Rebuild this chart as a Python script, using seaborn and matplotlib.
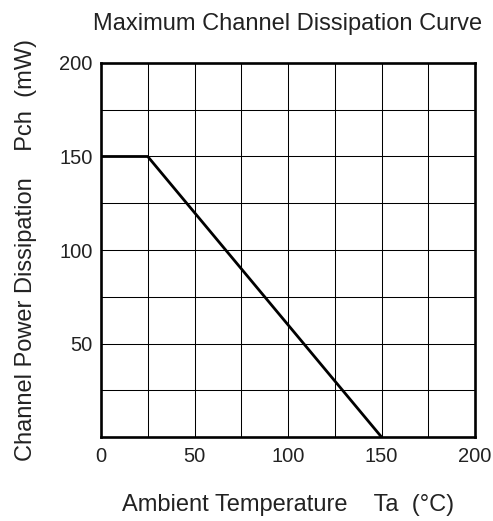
import matplotlib
matplotlib.use("Agg")
import matplotlib.pyplot as plt
import seaborn as sns
import pandas as pd

# derating curve points
ta = [0, 25, 150]
pch = [150, 150, 0]

x_ticks = [0, 50, 100, 150, 200]
y_ticks = [50, 100, 150, 200]
grid_step = 25

sns.set_theme(style="white")
plt.rcParams['font.family'] = ['Liberation Sans', 'DejaVu Sans']

df = pd.DataFrame({"Ta": ta, "Pch": pch})

fig = plt.figure(figsize=(4.93, 5.21), dpi=100)
ax = fig.add_axes([101 / 493, 84 / 521, 374 / 493, 374 / 521])

# grid every 25 in both directions
for v in range(grid_step, 200, grid_step):
    ax.axvline(v, color="black", lw=0.75, zorder=1)
    ax.axhline(v, color="black", lw=0.75, zorder=1)

sns.lineplot(data=df, x="Ta", y="Pch", ax=ax, color="black", lw=2.0, zorder=3)

ax.set_xlim(0, 200)
ax.set_ylim(0, 200)
ax.set_xticks(x_ticks)
ax.set_yticks(y_ticks)
ax.tick_params(axis="both", length=0, labelsize=14.5, colors="#222222")
ax.tick_params(axis="x", pad=7)
ax.tick_params(axis="y", pad=6)
for s in ax.spines.values():
    s.set_color("black")
    s.set_linewidth(1.9)
    s.set_visible(True)

ax.set_xlabel("Ambient Temperature    Ta  (°C)", fontsize=17, color="#222222", labelpad=20)
ax.set_ylabel("Channel Power Dissipation    Pch  (mW)", fontsize=17, color="#222222", labelpad=16)
ax.set_title("Maximum Channel Dissipation Curve", fontsize=17, color="#222222", pad=24)

fig.savefig("out.png", dpi=100)
